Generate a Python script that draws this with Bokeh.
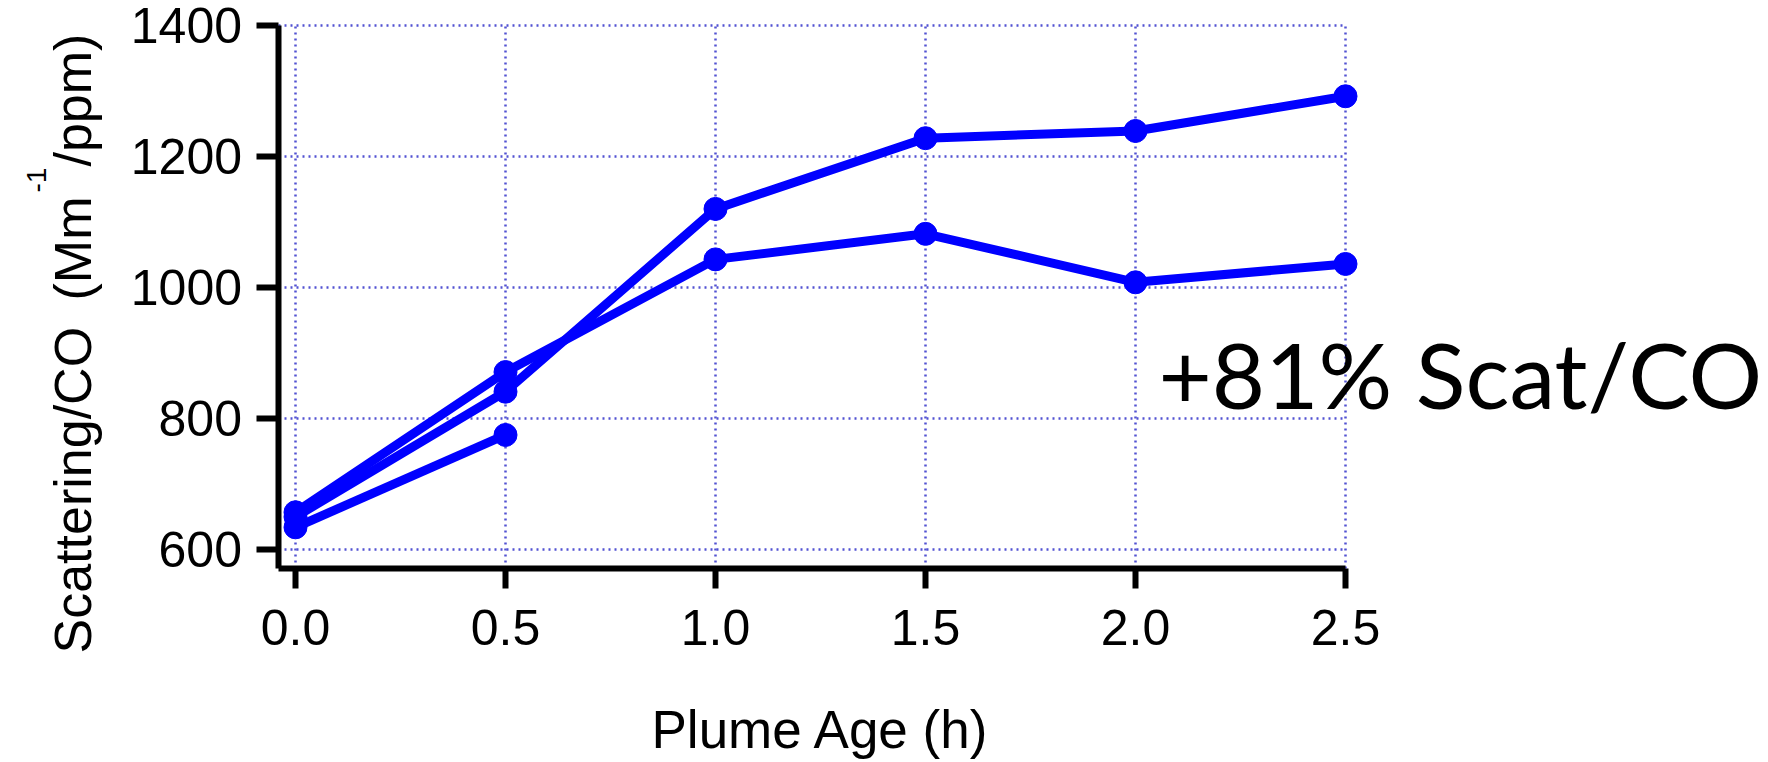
import math
from bokeh.plotting import figure
from bokeh.models import FixedTicker, NumeralTickFormatter, Label, Range1d
from bokeh.embed import file_html
from bokeh.resources import INLINE

# ---- data ----
plume_age = [0.0, 0.5, 1.0, 1.5, 2.0, 2.5]
scat_a = [657, 871, 1043, 1082, 1008, 1036]
scat_b = [650, 841, 1120, 1228, 1239, 1292]
age_c = [0.0, 0.5]
scat_c = [634, 775]

x_ticks = [0.0, 0.5, 1.0, 1.5, 2.0, 2.5]
y_ticks = [600, 800, 1000, 1200, 1400]

y_title_main = "Scattering/CO"
y_title_unit1 = "(Mm"
y_title_sup = "-1"
y_title_unit2 = "/ppm)"
x_title = "Plume Age (h)"
note = "+81% Scat/CO"

# ---- layout: the frame covers the whole canvas, axes sit at fixed locations ----
W, H = 1768, 762
PX0 = 295.0              # pixel of x = 0
KX = 420.0               # px per hour
PY1400 = 25.0            # pixel of y = 1400
KY = 524.1 / 800.0       # px per unit

def px2x(px):
    return (px - PX0) / KX

def py2y(py):
    return 1400 - (py - PY1400) / KY

AX_LEFT = px2x(277.5)
AX_BOTTOM = py2y(567.5)

BLUE = "#0000ff"
GRID = "#5252d2"
FONT = "Liberation Sans"

p = figure(width=W, height=H, min_border=0,
           x_range=Range1d(px2x(0), px2x(W)), y_range=Range1d(py2y(H), py2y(0)),
           output_backend="svg", toolbar_location=None)
p.outline_line_color = None
p.background_fill_color = "white"
p.border_fill_color = "white"

for ax in (p.xaxis[0], p.yaxis[0]):
    ax.axis_line_width = 6
    ax.axis_line_color = "black"
    ax.major_tick_line_width = 6
    ax.major_tick_line_color = "black"
    ax.major_tick_in = 0
    ax.minor_tick_line_color = None
    ax.major_label_text_font = FONT
    ax.major_label_text_font_size = "50px"
    ax.major_label_text_color = "black"

xa, ya = p.xaxis[0], p.yaxis[0]
xa.ticker = FixedTicker(ticks=x_ticks)
xa.formatter = NumeralTickFormatter(format="0.0")
xa.major_tick_out = 20
xa.major_label_standoff = 22
xa.fixed_location = AX_BOTTOM
xa.bounds = (AX_LEFT, x_ticks[-1])

ya.ticker = FixedTicker(ticks=y_ticks)
ya.formatter = NumeralTickFormatter(format="0")
ya.major_tick_out = 22
ya.major_label_standoff = 14
ya.fixed_location = AX_LEFT
ya.bounds = (AX_BOTTOM, y_ticks[-1])

xg, yg = p.xgrid[0], p.ygrid[0]
xg.ticker = FixedTicker(ticks=x_ticks)
yg.ticker = FixedTicker(ticks=y_ticks)
for g in (xg, yg):
    g.grid_line_color = GRID
    g.grid_line_width = 2.5
    g.grid_line_dash = "2 4"
try:
    xg.cross_bounds = (AX_BOTTOM, y_ticks[-1])
    yg.cross_bounds = (AX_LEFT, x_ticks[-1])
except Exception:
    xg.visible = False
    yg.visible = False
    p.segment(x0=x_ticks, y0=[AX_BOTTOM] * len(x_ticks), x1=x_ticks,
              y1=[y_ticks[-1]] * len(x_ticks), line_color=GRID,
              line_width=2.5, line_dash="2 4")
    p.segment(x0=[AX_LEFT] * len(y_ticks), y0=y_ticks,
              x1=[x_ticks[-1]] * len(y_ticks), y1=y_ticks, line_color=GRID,
              line_width=2.5, line_dash="2 4")

# ---- series ----
for xs, ys in ((plume_age, scat_a), (plume_age, scat_b), (age_c, scat_c)):
    p.line(xs, ys, line_color=BLUE, line_width=9)
    p.scatter(xs, ys, size=23, color=BLUE)

# ---- titles ----
# (bx, by) is where the text baseline starts; Bokeh's label anchor sits
# about 0.36 em above the baseline, so the anchor is moved "up" by that much.
def lab(txt, bx, by, size_px, rotated=False, font=FONT, k=0.36):
    shift = k * size_px
    if rotated:
        ax_, ay_, angle = bx - shift, by, math.pi / 2
    else:
        ax_, ay_, angle = bx, by - shift, 0.0
    p.add_layout(Label(x=px2x(ax_), y=py2y(ay_), text=txt, angle=angle,
                       text_font=font, text_font_size=f"{size_px}px",
                       text_color="black",
                       text_align="left", text_baseline="alphabetic"))

lab(y_title_main, 91, 653, 52, rotated=True)
lab(y_title_unit1, 91, 300, 52, rotated=True)
lab(y_title_sup, 46, 192, 28, rotated=True)
lab(y_title_unit2, 91, 166, 52, rotated=True)

lab(x_title, 651, 748, 53)
lab(note, 1158, 408, 92, font="Lato", k=0.38)

open("out.html", "w").write(file_html(p, INLINE))
